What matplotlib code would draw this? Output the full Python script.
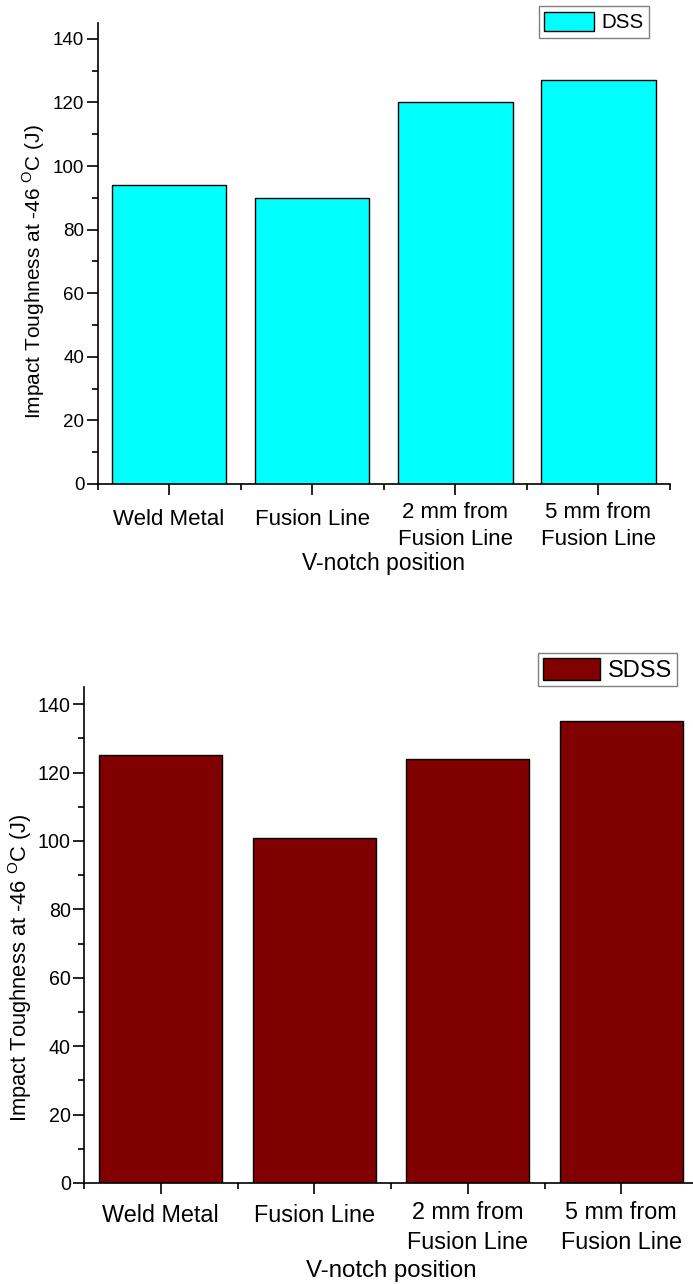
import matplotlib
matplotlib.use("Agg")
import matplotlib.pyplot as plt
import matplotlib.transforms as mtransforms
from matplotlib.patches import Patch
from matplotlib.ticker import MultipleLocator, FixedLocator

plt.rcParams['font.family'] = ['Liberation Sans', 'DejaVu Sans']
plt.rcParams['mathtext.fontset'] = 'custom'
plt.rcParams['mathtext.rm'] = 'Liberation Sans'

# datos
posiciones = ['Weld Metal', 'Fusion Line', '2 mm from\nFusion Line', '5 mm from\nFusion Line']
dss = [94, 90, 120, 127]
sdss = [125, 101, 124, 135]
series = ['DSS', 'SDSS']
colores = ['#00FFFF', '#800000']

W, H = 693, 1284
fig = plt.figure(figsize=(W / 100, H / 100), dpi=100)

# posiciones de los ejes en pixeles: (izq, der, arriba, abajo)
cajas = [(97.5, 670, 23, 484), (84, 698, 687, 1183)]
leyendas = [(649, 6), (677, 653)]
valores = [dss, sdss]
escalas = [1.0, 1.05]           # el segundo grafico esta un poco mas grande
leyenda_fs = [14.8, 17]
leyenda_pad = [0.28, 0.2]
ylabel_y = [0.46, 0.435]
ylabel_pad = [4, 3]
xlabel_pad = [1, 4]
bajada = [5, 2]                 # desplazamiento (pt) de las etiquetas de una linea

for i in range(2):
    x0, x1, y0, y1 = cajas[i]
    vals, nombre, color, ley, s = valores[i], series[i], colores[i], leyendas[i], escalas[i]
    ax = fig.add_axes([x0 / W, 1 - y1 / H, (x1 - x0) / W, (y1 - y0) / H])
    x = list(range(len(posiciones)))
    ax.bar(x, vals, width=0.8, color=color, edgecolor='black', linewidth=1)
    ax.set_xlim(-0.5, 3.5)
    ax.set_ylim(0, 145)

    ax.spines['top'].set_visible(False)
    ax.spines['right'].set_visible(False)
    ax.spines['left'].set_linewidth(1.2)
    ax.spines['bottom'].set_linewidth(1.2)

    ax.set_xticks(x)
    ax.set_xticklabels(posiciones, fontsize=16 * s, linespacing=1.4)
    ax.xaxis.set_minor_locator(FixedLocator([-0.5, 0.5, 1.5, 2.5, 3.5]))
    ax.yaxis.set_major_locator(MultipleLocator(20))
    ax.yaxis.set_minor_locator(MultipleLocator(10))
    ax.tick_params(axis='x', which='major', direction='out', length=8, width=1.2, pad=5)
    ax.tick_params(axis='y', which='major', direction='out', length=8, width=1.2,
                   labelsize=13.5 * s, pad=1.5)
    ax.tick_params(which='minor', direction='out', length=4.5, width=1.2)

    # las etiquetas de una sola linea quedan un poco mas abajo
    for t in ax.get_xticklabels():
        if '\n' not in t.get_text():
            t.set_transform(t.get_transform() +
                            mtransforms.ScaledTranslation(0, -bajada[i] / 72, fig.dpi_scale_trans))

    ax.set_xlabel('V-notch position', fontsize=16.5 * s, labelpad=xlabel_pad[i])
    ax.set_ylabel(r'Impact Toughness at -46 $^{\mathrm{O}}$C (J)', fontsize=15 * s,
                  labelpad=ylabel_pad[i], y=ylabel_y[i])

    ax.legend(handles=[Patch(facecolor=color, edgecolor='black', linewidth=1, label=nombre)],
              loc='upper right', bbox_to_anchor=(ley[0] / W, 1 - ley[1] / H),
              bbox_transform=fig.transFigure, fontsize=leyenda_fs[i], fancybox=False,
              edgecolor='#808080', framealpha=1, handlelength=2.4, handleheight=1.05,
              borderpad=leyenda_pad[i], handletextpad=0.35, borderaxespad=0)

fig.savefig('out.png', dpi=100)
